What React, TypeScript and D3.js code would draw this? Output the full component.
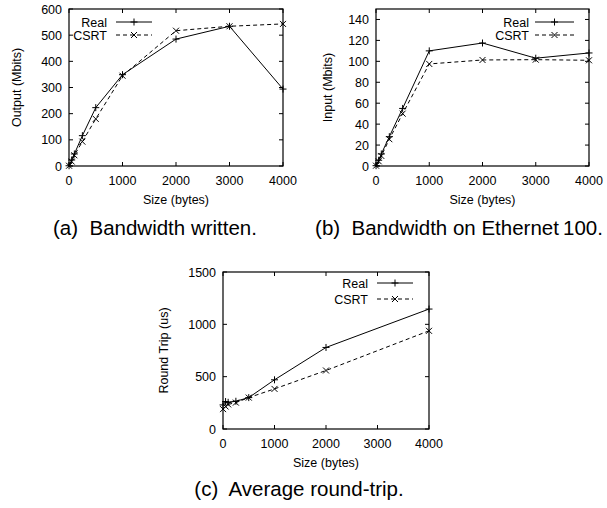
import React, { useRef, useEffect } from 'react';
import * as d3 from 'd3';

// message sizes in bytes
const sizes = [1, 50, 100, 250, 500, 1000, 2000, 3000, 4000];
const rttSizes = [1, 50, 100, 250, 500, 1000, 2000, 4000];

// (a) bandwidth written (Mbits)
const writtenReal = [1, 23, 46, 116, 223, 349, 485, 534, 294];
const writtenCsrt = [1, 17, 41, 93, 180, 345, 517, 534, 543];

// (b) bandwidth on ethernet 100 (Mbits)
const ethReal = [0.3, 5.5, 11.5, 28, 55, 110, 117.5, 103, 108];
const ethCsrt = [0.3, 4.5, 9.6, 25.6, 50, 97.5, 101.3, 101.6, 101];

// (c) round trip (us)
const rttReal = [230, 262, 255, 265, 300, 470, 779, 1146];
const rttCsrt = [190, 215, 235, 252, 300, 383, 559, 938];

const xTicks = [0, 1000, 2000, 3000, 4000];
const writtenTicks = [0, 100, 200, 300, 400, 500, 600];
const ethTicks = [0, 20, 40, 60, 80, 100, 120, 140];
const rttTicks = [0, 500, 1000, 1500];

const seriesNames = ['Real', 'CSRT'];

const FONT = '"Liberation Sans", Arial, Helvetica, sans-serif';

export default function App() {
    const svgRef = useRef<SVGSVGElement>(null);

    useEffect(() => {
        const svg = d3.select(svgRef.current);
        svg.selectAll('*').remove();

        const panels = [
            {
                box: [69, 283, 9, 166], yMax: 600, yTicks: writtenTicks, yLabel: 'Output (Mbits)', yLabelX: 17,
                xs: sizes, series: [writtenReal, writtenCsrt],
                legend: { textRight: 107, x1: 116, x2: 152, y: [22, 35] },
                caption: '(a)  Bandwidth written.', capX: 155, capY: 235,
            },
            {
                box: [376, 589, 9, 166], yMax: 150, yTicks: ethTicks, yLabel: 'Input (Mbits)', yLabelX: 328,
                xs: sizes, series: [ethReal, ethCsrt],
                legend: { textRight: 529, x1: 535, x2: 574, y: [22, 35] },
                caption: '(b)  Bandwidth on Ethernet\u2009100.', capX: 459, capY: 235,
            },
            {
                box: [223, 429, 272, 429], yMax: 1500, yTicks: rttTicks, yLabel: 'Round Trip (us)', yLabelX: 164,
                xs: rttSizes, series: [rttReal, rttCsrt],
                legend: { textRight: 368, x1: 377, x2: 413, y: [283, 299] },
                caption: '(c)  Average round-trip.', capX: 299, capY: 496,
            },
        ];

        const tick = 4;

        panels.forEach(p => {
            const [l, r, t, b] = p.box;
            const x = d3.scaleLinear().domain([0, 4000]).range([l, r]);
            const y = d3.scaleLinear().domain([0, p.yMax]).range([b, t]);
            const g = svg.append('g').attr('font-family', FONT).attr('font-size', 12.5);

            // ticks (mirrored, inward)
            xTicks.forEach(v => {
                g.append('line').attr('x1', x(v)).attr('x2', x(v)).attr('y1', b).attr('y2', b - tick).attr('stroke', '#000');
                g.append('line').attr('x1', x(v)).attr('x2', x(v)).attr('y1', t).attr('y2', t + tick).attr('stroke', '#000');
                g.append('text').attr('x', x(v)).attr('y', b + 18.5).attr('text-anchor', 'middle').text(v);
            });
            p.yTicks.forEach(v => {
                g.append('line').attr('x1', l).attr('x2', l + tick).attr('y1', y(v)).attr('y2', y(v)).attr('stroke', '#000');
                g.append('line').attr('x1', r).attr('x2', r - tick).attr('y1', y(v)).attr('y2', y(v)).attr('stroke', '#000');
                g.append('text').attr('x', l - 7).attr('y', y(v) + 4.5).attr('text-anchor', 'end').text(v);
            });

            g.append('rect').attr('x', l).attr('y', t).attr('width', r - l).attr('height', b - t)
                .attr('fill', 'none').attr('stroke', '#000').attr('stroke-width', 1.2);

            g.append('text').attr('x', (l + r) / 2).attr('y', b + 37.5).attr('text-anchor', 'middle').text('Size (bytes)');
            g.append('text')
                .attr('transform', `translate(${p.yLabelX},${(t + b) / 2}) rotate(-90)`)
                .attr('dy', '0.35em').attr('text-anchor', 'middle').text(p.yLabel);

            const line = d3.line<number>().x((d, i) => x(p.xs[i])).y(d => y(d));

            p.series.forEach((vals, si) => {
                const dash = si === 1 ? '4,3' : null;
                g.append('path').attr('d', line(vals)).attr('fill', 'none').attr('stroke', '#000')
                    .attr('stroke-width', 1).attr('stroke-dasharray', dash);
                vals.forEach((v, i) => drawMarker(g, x(p.xs[i]), y(v), si));

                // legend
                const ly = p.legend.y[si];
                g.append('text').attr('x', p.legend.textRight).attr('y', ly + 4.5).attr('text-anchor', 'end').text(seriesNames[si]);
                g.append('line').attr('x1', p.legend.x1).attr('x2', p.legend.x2).attr('y1', ly).attr('y2', ly)
                    .attr('stroke', '#000').attr('stroke-dasharray', dash);
                drawMarker(g, (p.legend.x1 + p.legend.x2) / 2, ly, si);
            });

            svg.append('text').attr('x', p.capX).attr('y', p.capY).attr('text-anchor', 'middle')
                .attr('font-family', FONT).attr('font-size', 20.5).style('white-space', 'pre').text(p.caption);
        });

        function drawMarker(g: any, cx: number, cy: number, kind: number) {
            const s = 3.5;
            if (kind === 0) {
                g.append('path').attr('d', `M${cx - s},${cy}H${cx + s}M${cx},${cy - s}V${cy + s}`).attr('stroke', '#000');
            } else {
                const k = 3;
                g.append('path').attr('d', `M${cx - k},${cy - k}L${cx + k},${cy + k}M${cx - k},${cy + k}L${cx + k},${cy - k}`).attr('stroke', '#000');
            }
        }
    }, []);

    return (
        <svg ref={svgRef} width={607} height={508}
            style={{ position: 'absolute', left: 0, top: 0, background: '#fff' }} />
    );
}
